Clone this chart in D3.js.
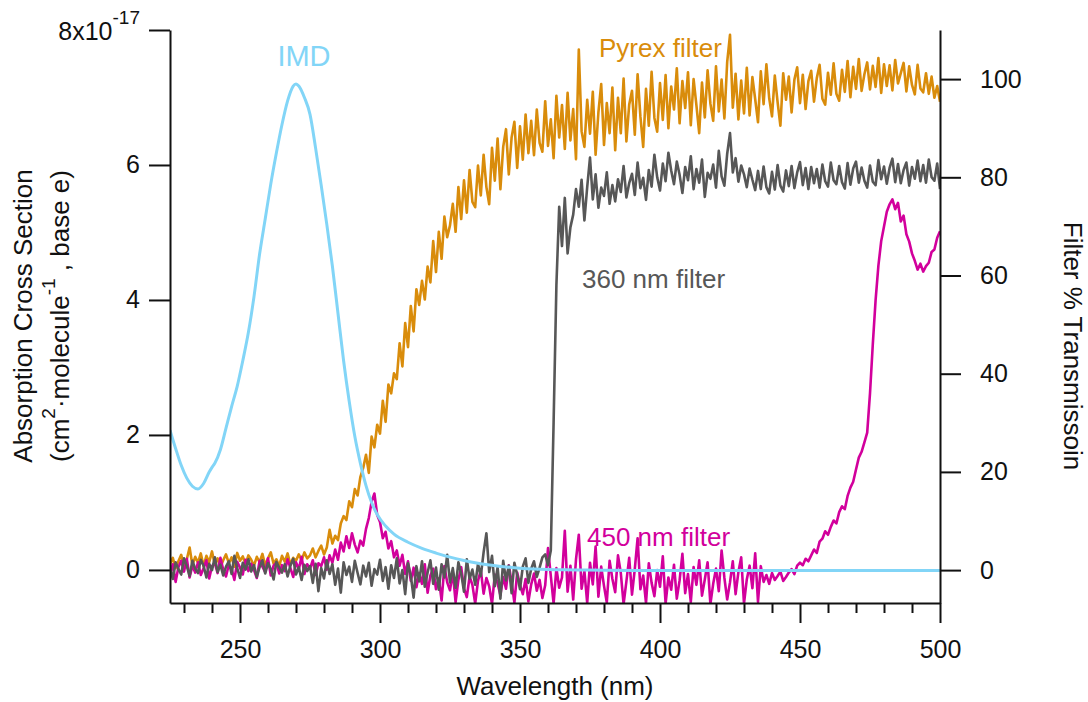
<!DOCTYPE html>
<html>
<head>
<meta charset="utf-8">
<script src="https://cdn.jsdelivr.net/npm/d3@7"></script>
<style>
  html, body { margin: 0; padding: 0; background: #fff; }
  svg { display: block; font-family: "Liberation Sans", Arial, sans-serif; }
</style>
</head>
<body>
<svg id="chart" width="1088" height="702"></svg>
<script>
// Filter transmission spectra sampled every 1 nm from 225 to 500 nm (% transmission)
const wavelengthStart = 225;
const wavelengthStep = 1;

const pyrexTransmission = [
  1.2, 2.5, 0.4, 1.8, 3.1, 0.9, 2.2, 4.6, 1.0, 2.7,
  1.5, 3.4, 0.8, 2.9, 1.6, 3.8, 1.1, 2.4, 0.6, 2.0,
  3.2, 1.4, 2.6, 0.7, 3.5, 1.9, 2.8, 1.2, 3.0, 2.1,
  0.9, 2.7, 1.6, 3.3, 1.0, 2.4, 3.6, 1.3, 2.2, 0.8,
  2.9, 1.7, 3.4, 1.1, 2.5, 1.9, 3.2, 2.0, 3.6, 2.4,
  3.0, 4.4, 2.6, 3.9, 5.0, 3.2, 4.6, 8.2, 5.4, 7.0,
  6.1, 9.5, 11.0, 10.2, 14.0, 12.8, 16.5, 15.2, 19.0, 20.8,
  23.5, 19.8, 27.2, 25.0, 29.6, 27.8, 34.5, 30.2, 37.8, 36.0,
  40.1, 38.9, 46.2, 41.5, 50.3, 45.4, 53.8, 48.6, 57.2, 54.0,
  58.9, 55.1, 61.8, 58.6, 67.0, 60.7, 68.9, 63.4, 72.0, 67.8,
  70.2, 74.6, 68.9, 78.0, 71.5, 79.4, 72.8, 81.5, 75.0, 73.9,
  82.4, 76.3, 84.6, 78.0, 74.5, 86.0, 79.3, 87.9, 77.6, 86.2,
  89.8, 80.6, 88.1, 91.3, 81.9, 90.4, 83.6, 92.8, 84.9, 91.5,
  84.5, 93.8, 87.0, 85.2, 95.5, 86.4, 91.8, 83.9, 96.6, 88.1,
  94.7, 85.8, 97.2, 87.5, 93.9, 83.7, 106.0, 89.4, 86.2, 95.8,
  88.9, 97.4, 84.6, 93.2, 99.0, 86.6, 95.1, 89.0, 98.3, 85.5,
  96.2, 89.0, 100.1, 87.3, 94.8, 97.6, 88.7, 101.0, 92.4, 86.2,
  98.0, 90.5, 101.5, 92.1, 89.3, 99.2, 91.7, 100.8, 90.0, 98.5,
  93.8, 102.2, 91.0, 99.6, 94.1, 101.4, 90.6, 100.0, 94.7, 89.0,
  99.3, 92.2, 101.8, 95.0, 91.5, 102.6, 93.4, 99.9, 92.0, 103.5,
  109.0, 94.2, 101.1, 91.8, 99.7, 93.0, 102.3, 92.6, 100.4, 95.9,
  91.2, 101.6, 94.9, 103.0, 96.1, 92.4, 100.7, 95.3, 90.5, 101.2,
  95.8, 100.5, 93.2, 99.9, 102.4, 95.1, 100.9, 93.9, 99.6, 101.7,
  95.4, 100.2, 102.9, 96.0, 94.8, 101.3, 96.8, 103.2, 97.0, 95.6,
  101.9, 97.4, 103.7, 96.3, 102.5, 98.0, 104.1, 97.6, 101.0, 103.4,
  97.9, 102.7, 98.4, 104.3, 97.2, 103.0, 98.6, 102.8, 97.7, 103.9,
  99.1, 101.2, 103.3, 97.5, 102.6, 98.8, 96.9, 102.9, 98.1, 97.3,
  101.2, 97.0, 100.5, 96.2, 98.6, 95.4
];

const filter360Transmission = [
  0.5, -1.8, 1.6, 0.2, -0.9, 2.4, 0.8, -1.2, 1.9, 0.3,
  -0.6, 2.1, 0.9, -1.5, 1.3, 0.0, 2.6, -0.4, 1.1, -1.1,
  0.7, 1.8, -0.8, 2.9, 0.4, -1.6, 1.5, 0.1, 2.2, -0.3,
  1.0, -1.4, 0.6, 2.0, -0.7, 1.4, 0.2, -1.9, 1.7, 0.5,
  -0.5, 1.2, -1.3, 0.9, 2.3, -0.9, 0.6, -2.0, 1.1, -0.2,
  0.8, -2.6, 1.3, -4.3, 0.4, -1.7, 2.0, -0.8, 1.2, -3.0,
  0.3, -4.6, 1.6, -1.0, 0.7, -2.4, 1.9, -0.6, -2.9, 0.9,
  -1.3, 1.5, -3.2, 0.2, -0.9, 2.1, -2.2, 0.6, -3.8, 1.0,
  -1.6, 2.4, -2.7, 0.0, -4.9, 1.4, -1.1, -5.6, 0.8, -2.3,
  1.8, -3.4, -0.5, 2.0, -2.8, 0.5, -4.0, 1.2, -1.5, 3.1,
  -2.5, 0.4, -3.6, 1.6, -0.7, -4.4, 2.2, -1.8, 0.1, -3.0,
  1.3, -1.2, 3.6, 7.5, -0.4, 2.9, -3.3, 0.6, -5.8, 1.9,
  -2.1, 0.9, -4.7, 1.5, -1.0, -3.9, 0.7, 2.4, -2.6, 0.3,
  1.8, -1.4, 0.5, 2.6, 3.2, 1.0, 4.0, 30.0, 58.0, 74.0,
  66.0, 75.8, 64.5, 69.8, 72.4, 77.6, 74.0, 79.5, 71.2, 78.0,
  84.0, 75.5, 80.6, 73.8, 77.9, 76.2, 81.0, 74.6, 78.4, 75.1,
  79.6, 77.0, 82.3, 75.9, 78.8, 80.7, 76.4, 83.0, 77.8, 79.9,
  75.4, 81.5, 78.1, 84.6, 80.0, 77.3, 82.8, 79.2, 85.0, 81.4,
  78.6, 83.2, 80.5, 76.8, 82.1, 79.4, 84.3, 77.6, 81.7, 78.9,
  83.6, 76.0, 80.9, 79.7, 82.6, 77.9, 85.4, 80.2, 78.3, 84.8,
  89.0, 81.0, 83.9, 79.1, 82.4, 80.6, 78.0, 81.8, 79.5, 77.4,
  81.3, 77.6, 82.2, 78.0, 76.7, 81.1, 77.5, 82.5, 78.3, 77.1,
  81.4, 78.2, 82.3, 77.8, 81.0, 83.1, 78.4, 81.9, 77.6, 82.1,
  78.8, 81.7, 77.9, 82.6, 79.2, 78.1, 83.0, 79.4, 78.6, 82.3,
  79.0, 77.7, 82.9, 78.5, 81.8, 83.2, 78.9, 82.0, 79.3, 77.9,
  82.4, 79.1, 78.4, 83.5, 79.6, 82.2, 78.7, 81.9, 83.8, 79.0,
  82.7, 78.8, 81.5, 83.0, 78.3, 82.1, 79.7, 83.4, 79.2, 82.5,
  78.9, 83.6, 80.0, 79.3, 82.8, 77.6
];

const filter450Transmission = [
  -0.8, 1.2, -2.4, 0.6, 1.9, -0.3, 2.3, -1.5, 0.9, -0.5,
  1.6, -1.0, 0.4, 2.0, -1.7, 0.8, 1.4, -0.6, 2.5, 0.1,
  -1.3, 1.1, 0.3, -2.0, 1.7, 0.5, -0.9, 2.1, -0.2, 1.3,
  0.0, -1.6, 1.9, 0.7, -0.4, 2.4, -1.1, 0.9, 1.5, -0.7,
  1.0, -0.2, 2.2, 0.4, -1.4, 1.6, 0.2, 2.7, -0.8, 1.2,
  0.3, 2.0, -1.0, 1.4, 0.8, 2.6, 0.1, 3.0, 1.5, 4.2,
  2.1, 5.6, 3.8, 6.9, 4.5, 7.5, 5.2, 3.6, 6.0, 5.0,
  8.4, 10.6, 13.9, 15.6, 11.2, 9.8, 6.5, 7.8, 4.4, 5.9,
  2.6, 4.0, 0.9, 3.1, -0.8, 1.8, -2.2, 0.5, -3.5, -0.6,
  -2.8, 1.2, -4.6, -1.1, 0.3, -3.9, -1.7, -6.2, 0.8, -2.5,
  -4.1, -0.4, -6.5, -2.0, 0.6, -3.7, -5.5, -1.3, -3.0, -6.8,
  -2.2, 0.0, -4.8, -1.6, -3.3, -6.9, -0.9, -2.7, -5.1, -1.4,
  -3.8, 1.0, -2.4, -6.6, -0.5, -3.0, -4.9, -1.8, -6.4, -2.9,
  -0.7, -4.2, -2.0, -5.7, -3.1, 4.5, -1.2, -6.8, 0.4, -3.6,
  -1.5, 8.0, -4.4, 0.9, -6.0, 2.2, 7.2, -3.8, -0.2, -6.7,
  1.5, -2.9, 4.8, -5.4, 0.7, -3.2, -6.6, 1.9, -1.8, -4.5,
  3.0, -0.6, -6.9, -2.3, 2.5, -5.0, 0.2, 6.5, -3.9, -1.1,
  -6.7, 1.4, -2.6, -5.3, 0.0, -3.4, 2.8, -6.8, -1.5, -4.0,
  1.1, -5.8, -2.1, 3.3, -4.7, -0.8, -6.5, 0.6, -3.0, 2.0,
  -5.2, -1.9, 1.6, -6.9, -2.8, 0.3, -4.3, 4.0, -1.6, -6.0,
  -2.5, 1.8, -4.9, -0.4, 2.6, -6.8, -1.9, 0.9, -3.7, 3.4,
  -6.5, 0.8, -2.4, -1.0, -2.8, -0.6, -2.0, -1.2, -0.3, -2.2,
  -1.4, -0.5, 0.2, -0.8, 0.9, 1.5, 1.0, 2.3, 1.8, 3.0,
  4.2, 3.5, 5.8, 6.4, 7.9, 7.2, 8.8, 10.1, 9.5, 11.8,
  13.0, 12.4, 15.1, 16.8, 18.0, 20.5, 22.9, 24.1, 26.0, 28.0,
  36.0, 46.0, 55.0, 62.0, 67.0, 70.0, 73.0, 74.5, 75.5, 73.5,
  74.8, 71.0, 72.2, 68.4, 66.9, 64.5, 63.0, 61.2, 62.4, 60.8,
  61.9, 62.6, 64.8, 65.3, 67.7, 69.0
];

// IMD absorption cross section (units of 1e-17 cm^2 molecule^-1)
const imdWavelength = [
  225, 227, 229, 231, 233, 235, 237, 239, 240, 241, 243, 245, 247, 249,
  251, 253, 255, 257, 259, 261, 263, 265, 267, 269, 270, 271, 273, 275,
  277, 279, 281, 283, 285, 287, 289, 291, 293, 295, 297, 299, 302, 305,
  310, 315, 320, 325, 330, 335, 340, 345, 350, 355, 360, 370, 380, 400,
  450, 500
];
const imdCrossSection = [
  2.07, 1.80, 1.55, 1.36, 1.24, 1.20, 1.28, 1.45, 1.52, 1.58, 1.78, 2.10, 2.42, 2.72,
  3.10, 3.52, 4.05, 4.68, 5.20, 5.72, 6.18, 6.60, 6.95, 7.17, 7.20, 7.17, 7.00, 6.75,
  6.25, 5.70, 5.12, 4.50, 3.80, 3.10, 2.50, 1.98, 1.58, 1.25, 1.00, 0.82, 0.65, 0.53,
  0.41, 0.32, 0.25, 0.19, 0.14, 0.10, 0.07, 0.045, 0.025, 0.012, 0.005, 0.0, -0.005, -0.008,
  -0.01, -0.01
];

const xTickValues = [250, 300, 350, 400, 450, 500];
const xMinorTickValues = [230, 240, 260, 270, 280, 290, 310, 320, 330, 340, 360, 370, 380, 390, 410, 420, 430, 440, 460, 470, 480, 490];
const leftTickValues = [0, 2, 4, 6, 8];
const rightTickValues = [0, 20, 40, 60, 80, 100];

const colors = {
  imd: "#82d5f7",
  pyrex: "#d98c0b",
  f360: "#575757",
  f450: "#d2009c",
  axis: "#111"
};

const svg = d3.select("#chart");
const plot = { left: 170, right: 940, top: 30, bottom: 603 };

const x = d3.scaleLinear().domain([225, 500]).range([plot.left, plot.right]);
const yLeft = d3.scaleLinear().domain([-0.49, 8]).range([plot.bottom, plot.top]);
const yRight = d3.scaleLinear().domain([-6.7, 110]).range([plot.bottom, plot.top]);

svg.append("defs").append("clipPath").attr("id", "plot-clip")
  .append("rect")
  .attr("x", plot.left).attr("y", plot.top)
  .attr("width", plot.right - plot.left).attr("height", plot.bottom - plot.top);

const traces = svg.append("g").attr("clip-path", "url(#plot-clip)");

function spectrum(values) {
  return values.map((v, i) => ({ wl: wavelengthStart + i * wavelengthStep, v }));
}

const filterLine = d3.line().x(d => x(d.wl)).y(d => yRight(d.v));

[
  { data: pyrexTransmission, color: colors.pyrex },
  { data: filter450Transmission, color: colors.f450 },
  { data: filter360Transmission, color: colors.f360 }
].forEach(s => {
  traces.append("path")
    .datum(spectrum(s.data))
    .attr("fill", "none")
    .attr("stroke", s.color)
    .attr("stroke-width", 2.6)
    .attr("stroke-linejoin", "round")
    .attr("d", filterLine);
});

const imdLine = d3.line()
  .x(d => x(d[0]))
  .y(d => yLeft(d[1]))
  .curve(d3.curveMonotoneX);

traces.append("path")
  .datum(imdWavelength.map((w, i) => [w, imdCrossSection[i]]))
  .attr("fill", "none")
  .attr("stroke", colors.imd)
  .attr("stroke-width", 3)
  .attr("d", imdLine);

// Axes
function styleAxis(g) {
  g.selectAll("path, line").attr("stroke", colors.axis).attr("stroke-width", 2);
  g.selectAll("text").attr("fill", "#111").attr("font-size", 25)
    .attr("font-family", '"Liberation Sans", Arial, sans-serif');
}

svg.append("g")
  .attr("transform", `translate(0,${plot.bottom})`)
  .call(d3.axisBottom(x).tickValues(xTickValues).tickSize(20).tickSizeOuter(0).tickPadding(17).tickFormat(d3.format("d")))
  .call(styleAxis);

svg.append("g")
  .attr("transform", `translate(0,${plot.bottom})`)
  .call(d3.axisBottom(x).tickValues(xMinorTickValues).tickSize(10).tickSizeOuter(0).tickFormat(""))
  .call(g => g.select(".domain").remove())
  .call(styleAxis);

const leftAxis = svg.append("g")
  .attr("transform", `translate(${plot.left},0)`)
  .call(d3.axisLeft(yLeft).tickValues(leftTickValues).tickSize(21).tickSizeOuter(0).tickPadding(9).tickFormat(d3.format("d")))
  .call(styleAxis);

// Top tick carries the exponent: 8x10^-17
leftAxis.selectAll(".tick").filter(d => d === 8).select("text")
  .text(null)
  .attr("dy", null)
  .attr("y", 9)
  .call(t => {
    t.append("tspan").text("8x10");
    t.append("tspan").attr("dy", -16).attr("font-size", 19).text("-17");
  });

svg.append("g")
  .attr("transform", `translate(${plot.right},0)`)
  .call(d3.axisRight(yRight).tickValues(rightTickValues).tickSize(21).tickSizeOuter(0).tickPadding(19).tickFormat(d3.format("d")))
  .call(styleAxis);

// Axis titles
svg.append("text")
  .attr("x", (plot.left + plot.right) / 2)
  .attr("y", 695)
  .attr("text-anchor", "middle")
  .attr("font-size", 26)
  .attr("fill", "#111")
  .text("Wavelength (nm)");

const leftTitle = svg.append("g").attr("transform", "translate(32,316) rotate(-90)");
leftTitle.append("text")
  .attr("text-anchor", "middle")
  .attr("font-size", 26)
  .attr("fill", "#111")
  .text("Absorption Cross Section");
const leftTitle2 = leftTitle.append("text")
  .attr("y", 37)
  .attr("text-anchor", "middle")
  .attr("font-size", 26)
  .attr("fill", "#111");
leftTitle2.append("tspan").text("(cm");
leftTitle2.append("tspan").attr("dy", -14).attr("font-size", 19).text("2");
leftTitle2.append("tspan").attr("dy", 14).text("·molecule");
leftTitle2.append("tspan").attr("dy", -14).attr("font-size", 19).text("-1");
leftTitle2.append("tspan").attr("dy", 14).text(" , base e)");

svg.append("text")
  .attr("transform", "translate(1064,346) rotate(90)")
  .attr("text-anchor", "middle")
  .attr("font-size", 26)
  .attr("fill", "#111")
  .text("Filter % Transmissoin");

// Trace labels
const labels = [
  { text: "IMD", x: 304, y: 66, anchor: "middle", size: 29, color: colors.imd },
  { text: "Pyrex filter", x: 599, y: 57, anchor: "start", size: 26, color: colors.pyrex },
  { text: "360 nm filter", x: 582, y: 288, anchor: "start", size: 26, color: colors.f360 },
  { text: "450 nm filter", x: 587, y: 546, anchor: "start", size: 26, color: colors.f450 }
];
svg.selectAll("text.trace-label")
  .data(labels)
  .join("text")
  .attr("class", "trace-label")
  .attr("x", d => d.x)
  .attr("y", d => d.y)
  .attr("text-anchor", d => d.anchor)
  .attr("font-size", d => d.size)
  .attr("fill", d => d.color)
  .text(d => d.text);
</script>
</body>
</html>
